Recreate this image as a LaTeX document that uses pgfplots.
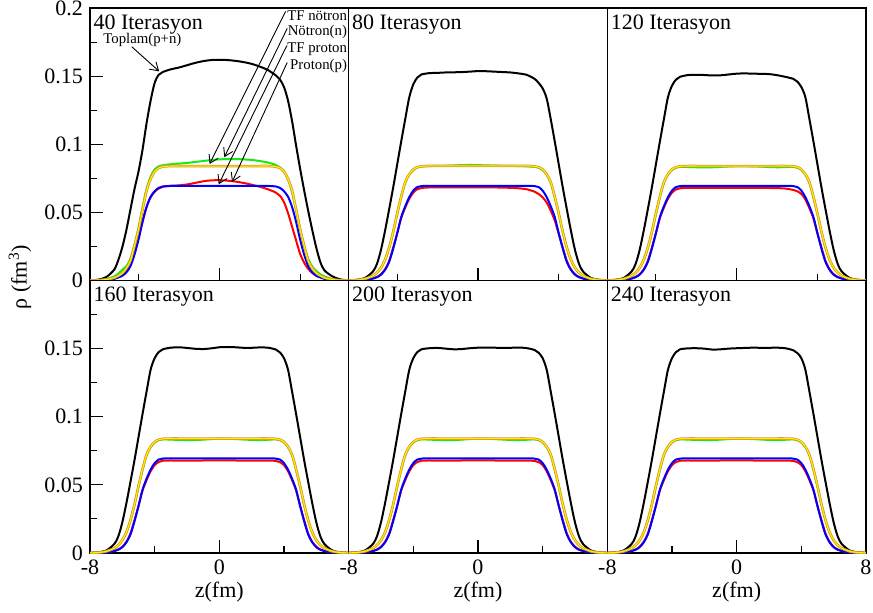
\documentclass[border=0pt]{standalone}
\usepackage{fontspec}
\setmainfont{Liberation Serif}
\usepackage{pgfplots}
\usepackage{pgfplotstable}
\pgfplotsset{compat=1.18}
\usetikzlibrary{arrows.meta}
\definecolor{xgreen}{RGB}{20,235,20}
\definecolor{xorange}{RGB}{215,150,40}
\definecolor{xyellow}{RGB}{255,240,0}

% columns: z  total  HF-neutron  TF-neutron  HF-proton  TF-proton
\pgfplotstableread{
z tot n tfn p tfp
-8 0.0001 0.0000 0.0000 0.0000 0.0000
-7.5 0.0006 0.0003 0.0002 0.0001 0.0001
-7 0.0025 0.0010 0.0007 0.0005 0.0004
-6.5 0.0080 0.0030 0.0020 0.0014 0.0012
-6.25 0.0150 0.0050 0.0035 0.0025 0.0022
-6 0.0245 0.0080 0.0055 0.0040 0.0035
-5.75 0.0370 0.0105 0.0090 0.0068 0.0060
-5.5 0.0520 0.0160 0.0145 0.0115 0.0105
-5.25 0.0670 0.0260 0.0255 0.0200 0.0190
-5 0.0800 0.0385 0.0375 0.0310 0.0300
-4.75 0.0960 0.0535 0.0520 0.0435 0.0430
-4.5 0.1155 0.0672 0.0660 0.0540 0.0540
-4.25 0.1320 0.0762 0.0745 0.0610 0.0615
-4 0.1450 0.0815 0.0800 0.0652 0.0655
-3.75 0.1510 0.0838 0.0826 0.0675 0.0680
-3.5 0.1530 0.0846 0.0836 0.0688 0.0690
-3 0.1550 0.0853 0.0840 0.0695 0.0694
-2.5 0.1563 0.0858 0.0840 0.0698 0.0694
-2 0.1580 0.0863 0.0840 0.0705 0.0694
-1.5 0.1597 0.0870 0.0840 0.0716 0.0694
-1 0.1610 0.0877 0.0840 0.0728 0.0694
-0.5 0.1618 0.0884 0.0840 0.0735 0.0694
0 0.1620 0.0889 0.0840 0.0736 0.0694
0.5 0.1618 0.0891 0.0840 0.0733 0.0694
1 0.1612 0.0891 0.0840 0.0726 0.0694
1.5 0.1603 0.0889 0.0840 0.0716 0.0694
2 0.1590 0.0885 0.0840 0.0703 0.0694
2.5 0.1570 0.0877 0.0840 0.0688 0.0694
3 0.1545 0.0866 0.0840 0.0670 0.0694
3.5 0.1505 0.0848 0.0836 0.0645 0.0690
3.75 0.1475 0.0830 0.0826 0.0622 0.0680
4 0.1420 0.0800 0.0800 0.0575 0.0655
4.25 0.1320 0.0745 0.0745 0.0495 0.0615
4.5 0.1170 0.0650 0.0660 0.0395 0.0540
4.75 0.0990 0.0520 0.0520 0.0294 0.0430
5 0.0820 0.0375 0.0375 0.0195 0.0300
5.25 0.0660 0.0255 0.0255 0.0130 0.0190
5.5 0.0510 0.0160 0.0145 0.0085 0.0105
5.75 0.0370 0.0102 0.0090 0.0055 0.0060
6 0.0240 0.0070 0.0055 0.0036 0.0035
6.25 0.0135 0.0045 0.0035 0.0024 0.0022
6.5 0.0075 0.0030 0.0020 0.0015 0.0012
7 0.0030 0.0010 0.0007 0.0005 0.0004
7.5 0.0008 0.0003 0.0002 0.0001 0.0001
8 0.0001 0.0000 0.0000 0.0000 0.0000
}\tA

\pgfplotstableread{
z tot n tfn p tfp
-8 0.0001 0.0001 0.0001 0.0000 0.0000
-7.5 0.0005 0.0003 0.0003 0.0001 0.0001
-7 0.0018 0.0012 0.0012 0.0005 0.0004
-6.5 0.0066 0.0035 0.0035 0.0015 0.0014
-6.25 0.0122 0.0058 0.0058 0.0026 0.0024
-6 0.0225 0.0094 0.0094 0.0046 0.0043
-5.75 0.0365 0.0152 0.0152 0.0082 0.0078
-5.5 0.0520 0.0240 0.0240 0.0142 0.0135
-5.25 0.0680 0.0354 0.0355 0.0240 0.0232
-5 0.0850 0.0488 0.0490 0.0345 0.0345
-4.75 0.1020 0.0612 0.0615 0.0458 0.0465
-4.5 0.1185 0.0718 0.0722 0.0535 0.0545
-4.25 0.1345 0.0776 0.0780 0.0600 0.0612
-4 0.1440 0.0811 0.0815 0.0645 0.0660
-3.75 0.1490 0.0830 0.0832 0.0670 0.0686
-3.5 0.1512 0.0837 0.0838 0.0679 0.0693
-3 0.1522 0.0840 0.0841 0.0683 0.0695
-2.5 0.1524 0.0841 0.0841 0.0684 0.0695
-2 0.1527 0.0842 0.0841 0.0684 0.0695
-1.5 0.1528 0.0844 0.0841 0.0684 0.0695
-1 0.1530 0.0847 0.0841 0.0684 0.0695
-0.5 0.1533 0.0848 0.0841 0.0684 0.0695
0 0.1537 0.0847 0.0841 0.0684 0.0695
0.5 0.1536 0.0845 0.0841 0.0684 0.0695
1 0.1533 0.0843 0.0841 0.0683 0.0695
1.5 0.1530 0.0842 0.0841 0.0682 0.0695
2 0.1527 0.0841 0.0841 0.0680 0.0695
2.5 0.1520 0.0840 0.0841 0.0677 0.0695
3 0.1510 0.0838 0.0841 0.0670 0.0695
3.5 0.1480 0.0834 0.0838 0.0652 0.0693
3.75 0.1450 0.0828 0.0832 0.0635 0.0686
4 0.1410 0.0811 0.0815 0.0610 0.0660
4.25 0.1335 0.0776 0.0780 0.0572 0.0612
4.5 0.1185 0.0718 0.0722 0.0512 0.0545
4.75 0.1020 0.0612 0.0615 0.0440 0.0465
5 0.0850 0.0488 0.0490 0.0340 0.0345
5.25 0.0680 0.0354 0.0355 0.0240 0.0232
5.5 0.0520 0.0240 0.0240 0.0142 0.0135
5.75 0.0365 0.0152 0.0152 0.0082 0.0078
6 0.0225 0.0094 0.0094 0.0046 0.0043
6.25 0.0122 0.0058 0.0058 0.0026 0.0024
6.5 0.0066 0.0035 0.0035 0.0015 0.0014
7 0.0018 0.0012 0.0012 0.0005 0.0004
7.5 0.0005 0.0003 0.0003 0.0001 0.0001
8 0.0001 0.0001 0.0001 0.0000 0.0000
}\tB

\pgfplotstableread{
z tot n tfn p tfp
-8 0.0001 0.0001 0.0001 0.0000 0.0000
-7.5 0.0005 0.0003 0.0003 0.0001 0.0001
-7 0.0018 0.0012 0.0012 0.0005 0.0004
-6.5 0.0066 0.0035 0.0035 0.0015 0.0014
-6.25 0.0122 0.0058 0.0058 0.0026 0.0024
-6 0.0225 0.0094 0.0094 0.0046 0.0043
-5.75 0.0365 0.0152 0.0152 0.0082 0.0078
-5.5 0.0520 0.0240 0.0240 0.0142 0.0135
-5.25 0.0680 0.0354 0.0355 0.0240 0.0232
-5 0.0850 0.0488 0.0490 0.0345 0.0345
-4.75 0.1020 0.0612 0.0615 0.0458 0.0465
-4.5 0.1185 0.0718 0.0722 0.0535 0.0545
-4.25 0.1345 0.0776 0.0780 0.0600 0.0612
-4 0.1430 0.0811 0.0815 0.0645 0.0660
-3.75 0.1475 0.0828 0.0832 0.0668 0.0686
-3.5 0.1495 0.0834 0.0838 0.0677 0.0693
-3 0.1508 0.0833 0.0840 0.0680 0.0695
-2.5 0.1510 0.0831 0.0840 0.0680 0.0695
-2 0.1508 0.0830 0.0840 0.0680 0.0695
-1.5 0.1505 0.0831 0.0840 0.0680 0.0695
-1 0.1506 0.0834 0.0840 0.0680 0.0695
-0.5 0.1512 0.0837 0.0840 0.0680 0.0695
0 0.1518 0.0839 0.0840 0.0680 0.0695
0.5 0.1520 0.0839 0.0840 0.0680 0.0695
1 0.1518 0.0838 0.0840 0.0680 0.0695
1.5 0.1517 0.0836 0.0840 0.0680 0.0695
2 0.1515 0.0833 0.0840 0.0679 0.0695
2.5 0.1507 0.0831 0.0840 0.0678 0.0695
3 0.1495 0.0832 0.0840 0.0675 0.0695
3.5 0.1480 0.0834 0.0838 0.0665 0.0693
3.75 0.1460 0.0828 0.0832 0.0655 0.0686
4 0.1420 0.0811 0.0815 0.0635 0.0660
4.25 0.1345 0.0776 0.0780 0.0595 0.0612
4.5 0.1185 0.0718 0.0722 0.0530 0.0545
4.75 0.1020 0.0612 0.0615 0.0455 0.0465
5 0.0850 0.0488 0.0490 0.0345 0.0345
5.25 0.0680 0.0354 0.0355 0.0240 0.0232
5.5 0.0520 0.0240 0.0240 0.0142 0.0135
5.75 0.0365 0.0152 0.0152 0.0082 0.0078
6 0.0225 0.0094 0.0094 0.0046 0.0043
6.25 0.0122 0.0058 0.0058 0.0026 0.0024
6.5 0.0066 0.0035 0.0035 0.0015 0.0014
7 0.0018 0.0012 0.0012 0.0005 0.0004
7.5 0.0005 0.0003 0.0003 0.0001 0.0001
8 0.0001 0.0001 0.0001 0.0000 0.0000
}\tC

\pgfplotstableread{
z tot n tfn p tfp
-8 0.0001 0.0001 0.0001 0.0000 0.0000
-7.5 0.0005 0.0003 0.0003 0.0001 0.0001
-7 0.0018 0.0012 0.0012 0.0005 0.0004
-6.5 0.0066 0.0035 0.0035 0.0015 0.0014
-6.25 0.0122 0.0058 0.0058 0.0026 0.0024
-6 0.0225 0.0094 0.0094 0.0046 0.0043
-5.75 0.0365 0.0152 0.0152 0.0082 0.0078
-5.5 0.0520 0.0240 0.0240 0.0142 0.0135
-5.25 0.0680 0.0354 0.0355 0.0240 0.0232
-5 0.0850 0.0488 0.0490 0.0345 0.0345
-4.75 0.1020 0.0612 0.0615 0.0458 0.0465
-4.5 0.1185 0.0718 0.0722 0.0535 0.0545
-4.25 0.1345 0.0776 0.0780 0.0600 0.0612
-4 0.1430 0.0811 0.0815 0.0645 0.0660
-3.75 0.1475 0.0828 0.0832 0.0668 0.0686
-3.5 0.1495 0.0834 0.0838 0.0677 0.0693
-3 0.1507 0.0832 0.0840 0.0679 0.0695
-2.5 0.1510 0.0830 0.0840 0.0678 0.0695
-2 0.1505 0.0829 0.0840 0.0678 0.0695
-1.5 0.1499 0.0829 0.0840 0.0678 0.0695
-1 0.1497 0.0832 0.0840 0.0679 0.0695
-0.5 0.1502 0.0836 0.0840 0.0679 0.0695
0 0.1510 0.0839 0.0840 0.0679 0.0695
0.5 0.1512 0.0838 0.0840 0.0679 0.0695
1 0.1510 0.0836 0.0840 0.0679 0.0695
1.5 0.1506 0.0833 0.0840 0.0678 0.0695
2 0.1506 0.0830 0.0840 0.0678 0.0695
2.5 0.1509 0.0829 0.0840 0.0678 0.0695
3 0.1507 0.0831 0.0840 0.0678 0.0695
3.5 0.1493 0.0834 0.0838 0.0676 0.0693
3.75 0.1472 0.0828 0.0832 0.0667 0.0686
4 0.1430 0.0811 0.0815 0.0645 0.0660
4.25 0.1345 0.0776 0.0780 0.0600 0.0612
4.5 0.1185 0.0718 0.0722 0.0535 0.0545
4.75 0.1020 0.0612 0.0615 0.0458 0.0465
5 0.0850 0.0488 0.0490 0.0345 0.0345
5.25 0.0680 0.0354 0.0355 0.0240 0.0232
5.5 0.0520 0.0240 0.0240 0.0142 0.0135
5.75 0.0365 0.0152 0.0152 0.0082 0.0078
6 0.0225 0.0094 0.0094 0.0046 0.0043
6.25 0.0122 0.0058 0.0058 0.0026 0.0024
6.5 0.0066 0.0035 0.0035 0.0015 0.0014
7 0.0018 0.0012 0.0012 0.0005 0.0004
7.5 0.0005 0.0003 0.0003 0.0001 0.0001
8 0.0001 0.0001 0.0001 0.0000 0.0000
}\tD

\pgfplotstableread{
z tot n tfn p tfp
-8 0.0001 0.0001 0.0001 0.0000 0.0000
-7.5 0.0005 0.0003 0.0003 0.0001 0.0001
-7 0.0018 0.0012 0.0012 0.0005 0.0004
-6.5 0.0066 0.0035 0.0035 0.0015 0.0014
-6.25 0.0122 0.0058 0.0058 0.0026 0.0024
-6 0.0225 0.0094 0.0094 0.0046 0.0043
-5.75 0.0365 0.0152 0.0152 0.0082 0.0078
-5.5 0.0520 0.0240 0.0240 0.0142 0.0135
-5.25 0.0680 0.0354 0.0355 0.0240 0.0232
-5 0.0850 0.0488 0.0490 0.0345 0.0345
-4.75 0.1020 0.0612 0.0615 0.0458 0.0465
-4.5 0.1185 0.0718 0.0722 0.0535 0.0545
-4.25 0.1345 0.0776 0.0780 0.0600 0.0612
-4 0.1430 0.0811 0.0815 0.0645 0.0660
-3.75 0.1475 0.0828 0.0832 0.0668 0.0686
-3.5 0.1495 0.0834 0.0838 0.0677 0.0693
-3 0.1503 0.0832 0.0840 0.0679 0.0695
-2.5 0.1505 0.0830 0.0840 0.0678 0.0695
-2 0.1500 0.0829 0.0840 0.0678 0.0695
-1.5 0.1495 0.0829 0.0840 0.0678 0.0695
-1 0.1497 0.0832 0.0840 0.0679 0.0695
-0.5 0.1503 0.0836 0.0840 0.0679 0.0695
0 0.1507 0.0839 0.0840 0.0679 0.0695
0.5 0.1508 0.0838 0.0840 0.0679 0.0695
1 0.1507 0.0836 0.0840 0.0679 0.0695
1.5 0.1505 0.0833 0.0840 0.0678 0.0695
2 0.1506 0.0830 0.0840 0.0678 0.0695
2.5 0.1508 0.0829 0.0840 0.0678 0.0695
3 0.1504 0.0831 0.0840 0.0678 0.0695
3.5 0.1490 0.0834 0.0838 0.0676 0.0693
3.75 0.1470 0.0828 0.0832 0.0667 0.0686
4 0.1430 0.0811 0.0815 0.0645 0.0660
4.25 0.1345 0.0776 0.0780 0.0600 0.0612
4.5 0.1185 0.0718 0.0722 0.0535 0.0545
4.75 0.1020 0.0612 0.0615 0.0458 0.0465
5 0.0850 0.0488 0.0490 0.0345 0.0345
5.25 0.0680 0.0354 0.0355 0.0240 0.0232
5.5 0.0520 0.0240 0.0240 0.0142 0.0135
5.75 0.0365 0.0152 0.0152 0.0082 0.0078
6 0.0225 0.0094 0.0094 0.0046 0.0043
6.25 0.0122 0.0058 0.0058 0.0026 0.0024
6.5 0.0066 0.0035 0.0035 0.0015 0.0014
7 0.0018 0.0012 0.0012 0.0005 0.0004
7.5 0.0005 0.0003 0.0003 0.0001 0.0001
8 0.0001 0.0001 0.0001 0.0000 0.0000
}\tE

\pgfplotstableread{
z tot n tfn p tfp
-8 0.0001 0.0001 0.0001 0.0000 0.0000
-7.5 0.0005 0.0003 0.0003 0.0001 0.0001
-7 0.0018 0.0012 0.0012 0.0005 0.0004
-6.5 0.0066 0.0035 0.0035 0.0015 0.0014
-6.25 0.0122 0.0058 0.0058 0.0026 0.0024
-6 0.0225 0.0094 0.0094 0.0046 0.0043
-5.75 0.0365 0.0152 0.0152 0.0082 0.0078
-5.5 0.0520 0.0240 0.0240 0.0142 0.0135
-5.25 0.0680 0.0354 0.0355 0.0240 0.0232
-5 0.0850 0.0488 0.0490 0.0345 0.0345
-4.75 0.1020 0.0612 0.0615 0.0458 0.0465
-4.5 0.1185 0.0718 0.0722 0.0535 0.0545
-4.25 0.1345 0.0776 0.0780 0.0600 0.0612
-4 0.1430 0.0811 0.0815 0.0645 0.0660
-3.75 0.1475 0.0828 0.0832 0.0668 0.0686
-3.5 0.1495 0.0834 0.0838 0.0677 0.0693
-3 0.1502 0.0832 0.0840 0.0679 0.0695
-2.5 0.1503 0.0830 0.0840 0.0678 0.0695
-2 0.1500 0.0829 0.0840 0.0678 0.0695
-1.5 0.1493 0.0829 0.0840 0.0678 0.0695
-1 0.1495 0.0832 0.0840 0.0679 0.0695
-0.5 0.1500 0.0836 0.0840 0.0679 0.0695
0 0.1503 0.0839 0.0840 0.0679 0.0695
0.5 0.1505 0.0838 0.0840 0.0679 0.0695
1 0.1507 0.0836 0.0840 0.0679 0.0695
1.5 0.1506 0.0833 0.0840 0.0678 0.0695
2 0.1506 0.0830 0.0840 0.0678 0.0695
2.5 0.1507 0.0829 0.0840 0.0678 0.0695
3 0.1503 0.0831 0.0840 0.0678 0.0695
3.5 0.1488 0.0834 0.0838 0.0676 0.0693
3.75 0.1468 0.0828 0.0832 0.0667 0.0686
4 0.1430 0.0811 0.0815 0.0645 0.0660
4.25 0.1345 0.0776 0.0780 0.0600 0.0612
4.5 0.1185 0.0718 0.0722 0.0535 0.0545
4.75 0.1020 0.0612 0.0615 0.0458 0.0465
5 0.0850 0.0488 0.0490 0.0345 0.0345
5.25 0.0680 0.0354 0.0355 0.0240 0.0232
5.5 0.0520 0.0240 0.0240 0.0142 0.0135
5.75 0.0365 0.0152 0.0152 0.0082 0.0078
6 0.0225 0.0094 0.0094 0.0046 0.0043
6.25 0.0122 0.0058 0.0058 0.0026 0.0024
6.5 0.0066 0.0035 0.0035 0.0015 0.0014
7 0.0018 0.0012 0.0012 0.0005 0.0004
7.5 0.0005 0.0003 0.0003 0.0001 0.0001
8 0.0001 0.0001 0.0001 0.0000 0.0000
}\tF

\pgfplotsset{
  panel/.style={
    scale only axis, width=129.33pt, height=136.25pt, anchor=south west,
    xmin=-8, xmax=8, ymin=0, ymax=0.2,
    axis line style={line width=0.8pt},
    tick align=inside, xtick pos=bottom, ytick pos=left,
    major tick length=6.5pt, minor tick length=3.5pt,
    every tick/.style={black, line width=0.55pt},
    tick label style={font=\fontsize{11}{13}\selectfont},
    every axis plot/.append style={smooth, line width=1pt},
  },
  toprow/.style={xtick={0}, minor xtick={-5,5}, xticklabels={}},
  botrow/.style={xtick={-8,0,8}, minor xtick={-4,4},
    xlabel={z(fm)},
    xlabel style={at={(axis description cs:0.5,-0.143)}, anchor=center,
                  font=\fontsize{11}{13}\selectfont}},
  leftcol/.style={ytick={0,0.05,0.1,0.15,0.2}, minor ytick={0.025,0.075,0.125,0.175}},
  othercol/.style={ytick=\empty},
}
\newcommand{\curves}[1]{%
  \addplot[black] table[x=z,y=tot] {#1};
  \addplot[red] table[x=z,y=p] {#1};
  \addplot[blue] table[x=z,y=tfp] {#1};
  \addplot[xgreen] table[x=z,y=n] {#1};
  \addplot[xorange, line width=1.3pt] table[x=z,y=tfn] {#1};
  \addplot[xyellow, line width=0.55pt] table[x=z,y=tfn] {#1};
}
\newcommand{\ptitle}[1]{\node[anchor=north west, inner sep=0pt, font=\fontsize{11}{13}\selectfont] at (rel axis cs:0.012,0.978) {#1};}

\begin{document}
\begin{tikzpicture}
\path[use as bounding box] (0pt,0pt) rectangle (436.5pt,306pt);

% top row
\begin{axis}[panel, toprow, leftcol, at={(45pt,165.75pt)},
  yticklabels={0,0.05,0.1,0.15,0.2}]
\curves{\tA}
\ptitle{40 Iterasyon}
\begin{scope}[font=\fontsize{7.4}{8}\selectfont]
\node[anchor=west, inner sep=0pt] at (axis cs:-7.2,0.1765) {Toplam(p+n)};
\node[anchor=east, inner sep=0pt] at (axis cs:7.92,0.1945) {TF nötron};
\node[anchor=east, inner sep=0pt] at (axis cs:7.92,0.1825) {Nötron(n)};
\node[anchor=east, inner sep=0pt] at (axis cs:7.92,0.1700) {TF proton};
\node[anchor=east, inner sep=0pt] at (axis cs:7.92,0.1578) {Proton(p)};
\end{scope}
\draw[-{Straight Barb[length=4pt,width=5pt]}, line width=0.45pt] (axis cs:-5.41,0.1715) -- (axis cs:-3.72,0.1535);
\draw[-{Straight Barb[length=4pt,width=5pt]}, line width=0.45pt] (axis cs:4.1,0.1975) -- (axis cs:-0.6,0.0855);
\draw[-{Straight Barb[length=4pt,width=5pt]}, line width=0.45pt] (axis cs:4.2,0.1850) -- (axis cs:0.31,0.0905);
\draw[-{Straight Barb[length=4pt,width=5pt]}, line width=0.45pt] (axis cs:4.18,0.1725) -- (axis cs:-0.04,0.0706);
\draw[-{Straight Barb[length=4pt,width=5pt]}, line width=0.45pt] (axis cs:4.2,0.1600) -- (axis cs:0.79,0.0723);
\end{axis}

\begin{axis}[panel, toprow, othercol, at={(174.33pt,165.75pt)}]
\curves{\tB}
\ptitle{80 Iterasyon}
\end{axis}

\begin{axis}[panel, toprow, othercol, at={(303.67pt,165.75pt)}]
\curves{\tC}
\ptitle{120 Iterasyon}
\end{axis}

% bottom row
\begin{axis}[panel, botrow, leftcol, at={(45pt,29.5pt)},
  yticklabels={0,0.05,0.1,0.15,{}}, xticklabels={-8,0,{}}]
\curves{\tD}
\ptitle{160 Iterasyon}
\end{axis}

\begin{axis}[panel, botrow, othercol, at={(174.33pt,29.5pt)}, xticklabels={-8,0,{}}]
\curves{\tE}
\ptitle{200 Iterasyon}
\end{axis}

\begin{axis}[panel, botrow, othercol, at={(303.67pt,29.5pt)}, xticklabels={-8,0,8}]
\curves{\tF}
\ptitle{240 Iterasyon}
\end{axis}

\node[rotate=90, font=\fontsize{11}{13}\selectfont] at (10pt,167.5pt) {ρ (fm\textsuperscript{3})};
\end{tikzpicture}
\end{document}
